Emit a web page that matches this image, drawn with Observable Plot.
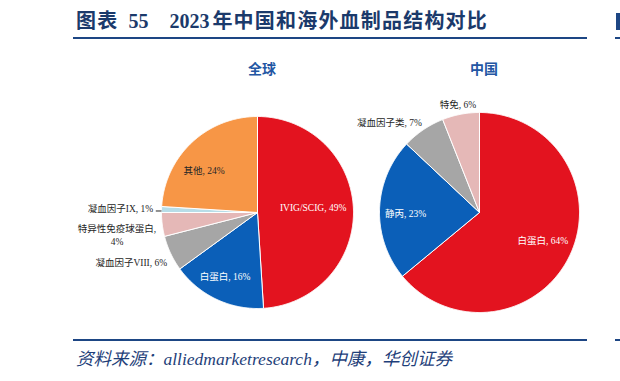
<!DOCTYPE html>
<html><head><meta charset="utf-8">
<script src="https://cdn.jsdelivr.net/npm/d3@7"></script>
<script src="https://cdn.jsdelivr.net/npm/@observablehq/plot@0.6"></script>
<style>
body{margin:0;background:#fff;}
#wrap{position:relative;width:620px;height:381px;overflow:hidden;background:#fff;}
#title{position:absolute;left:76px;top:9px;font-weight:bold;font-size:20px;line-height:24px;font-family:"Liberation Serif","Noto Sans CJK SC";color:#1b3a6b;white-space:nowrap;}
#title .cjk{letter-spacing:1.2px;}
.rule{position:absolute;height:2px;background:#1d4684;}
#source{position:absolute;left:76px;top:349px;font-style:italic;font-size:17.5px;line-height:20px;font-family:"Liberation Serif","Noto Sans CJK SC";color:#1f3f7a;white-space:nowrap;}
#chart{position:absolute;left:0;top:0;}
</style></head>
<body>
<div id="wrap">
  <div id="chart"></div>
  <div id="title"><span class="cjk">图表</span><span style="margin-left:10px">55</span><span style="margin-left:21px">2023</span><span class="cjk" style="margin-left:3px">年中国和海外血制品结构对比</span></div>
  <div class="rule" style="left:73px;top:37px;width:514px;"></div>
  <div class="rule" style="left:615px;top:37px;width:5px;"></div>
  <div class="rule" style="left:616px;top:13px;width:4px;height:17px;"></div>
  <div class="rule" style="left:73px;top:339px;width:514px;"></div>
  <div class="rule" style="left:615px;top:339px;width:5px;"></div>
  <div id="source">资料来源：alliedmarketresearch，中康，华创证券</div>
</div>
<script>
// ---- data ----
const pieTitles = ["全球", "中国"];
const globalNames = ["IVIG/SCIG", "白蛋白", "凝血因子VIII", "特异性免疫球蛋白", "凝血因子IX", "其他"];
const globalValues = [49, 16, 6, 4, 1, 24];
const chinaNames = ["白蛋白", "静丙", "凝血因子类", "特免"];
const chinaValues = [64, 23, 7, 6];

// ---- styles / layout ----
const globalColors = ["#e3131f", "#0b5fb8", "#a6a6a6", "#e5b8b7", "#b7dde8", "#f79646"];
const chinaColors = ["#e3131f", "#0b5fb8", "#a6a6a6", "#e5b8b7"];
const pies = [
  {cx: 257, cy: 212, r: 96},
  {cx: 479, cy: 212, r: 100}
];
const globalLabelLayout = [
  {f: 0.58, dx: 0, dy: -3.6, anchor: "middle", fill: "white"},
  {f: 0.72, dx: -3, dy: 1, anchor: "middle", fill: "white"},
  {f: 1.04, dx: 0, dy: 6.5, anchor: "end", fill: "#262626"},
  {f: 1.04, dx: -41.4, dy: 9.5, anchor: "middle", fill: "#262626", wrap: true},
  {f: 1.08, dx: -0.7, dy: -2, anchor: "end", fill: "#262626", leader: true},
  {f: 0.72, dx: -6, dy: 7.4, anchor: "middle", fill: "#262626"}
];
const chinaLabelLayout = [
  {f: 0.70, dx: 0, dy: -2.8, anchor: "middle", fill: "white"},
  {f: 0.74, dx: 0, dy: 2.6, anchor: "middle", fill: "white"},
  {f: 1.20, dx: -22.5, dy: 8, anchor: "middle", fill: "#262626"},
  {f: 1.10, dx: -0.9, dy: -0.6, anchor: "middle", fill: "#262626"}
];

function buildPie(names, values, colors, layout, geo) {
  const arcs = d3.pie().sort(null).value(d => d)(values);
  const polys = [], labels = [], leaders = [];
  arcs.forEach((a, i) => {
    const pts = [{x: geo.cx, y: geo.cy}];
    const n = Math.max(2, Math.ceil((a.endAngle - a.startAngle) / (Math.PI / 360)));
    for (let k = 0; k <= n; k++) {
      const t = a.startAngle + (a.endAngle - a.startAngle) * k / n;
      pts.push({x: geo.cx + geo.r * Math.sin(t), y: geo.cy - geo.r * Math.cos(t)});
    }
    pts.push({x: geo.cx, y: geo.cy});
    polys.push({pts, color: colors[i]});
    const mid = (a.startAngle + a.endAngle) / 2;
    const L = layout[i];
    const text = L.wrap ? `${names[i]},\n${values[i]}%` : `${names[i]}, ${values[i]}%`;
    labels.push({
      x: geo.cx + L.f * geo.r * Math.sin(mid) + L.dx,
      y: geo.cy - L.f * geo.r * Math.cos(mid) + L.dy,
      text, anchor: L.anchor, fill: L.fill
    });
    if (L.leader) {
      leaders.push({
        x1: geo.cx + geo.r * Math.sin(mid), y1: geo.cy - geo.r * Math.cos(mid) + 1.5,
        x2: geo.cx + 1.06 * geo.r * Math.sin(mid), y2: geo.cy - geo.r * Math.cos(mid) + 1.5
      });
    }
  });
  return {polys, labels, leaders};
}

const g = buildPie(globalNames, globalValues, globalColors, globalLabelLayout, pies[0]);
const c = buildPie(chinaNames, chinaValues, chinaColors, chinaLabelLayout, pies[1]);
const allPolys = [...g.polys, ...c.polys];
const allLabels = [...g.labels, ...c.labels];
const allLeaders = [...g.leaders, ...c.leaders];
const titleData = pieTitles.map((t, i) => ({t, x: pies[i].cx + 4.5, y: 69}));

const font = '"Liberation Serif","Noto Sans CJK SC",serif';
const marks = [];
allPolys.forEach(p => marks.push(Plot.line(p.pts, {x: "x", y: "y", fill: p.color, stroke: "white", strokeWidth: 1, curve: "linear", strokeLinejoin: "round"})));
marks.push(Plot.link(allLeaders, {x1: "x1", y1: "y1", x2: "x2", y2: "y2", stroke: "#262626", strokeWidth: 1}));
["middle", "end", "start"].forEach(anchor => {
  const subset = allLabels.filter(d => d.anchor === anchor);
  if (subset.length) marks.push(Plot.text(subset, {x: "x", y: "y", text: "text", fill: "fill", textAnchor: anchor, fontSize: 9.5, fontFamily: font, lineHeight: 1.4}));
});
marks.push(Plot.text(titleData, {x: "x", y: "y", text: "t", fill: "#2356a3", fontSize: 14, fontWeight: "bold", fontFamily: '"Noto Sans CJK SC",sans-serif'}));

const chart = Plot.plot({
  width: 620, height: 381, margin: 0,
  x: {domain: [0, 620], range: [0, 620], axis: null},
  y: {domain: [0, 381], range: [0, 381], axis: null},
  style: {background: "transparent"},
  marks
});
document.getElementById("chart").appendChild(chart);
</script>
</body></html>
